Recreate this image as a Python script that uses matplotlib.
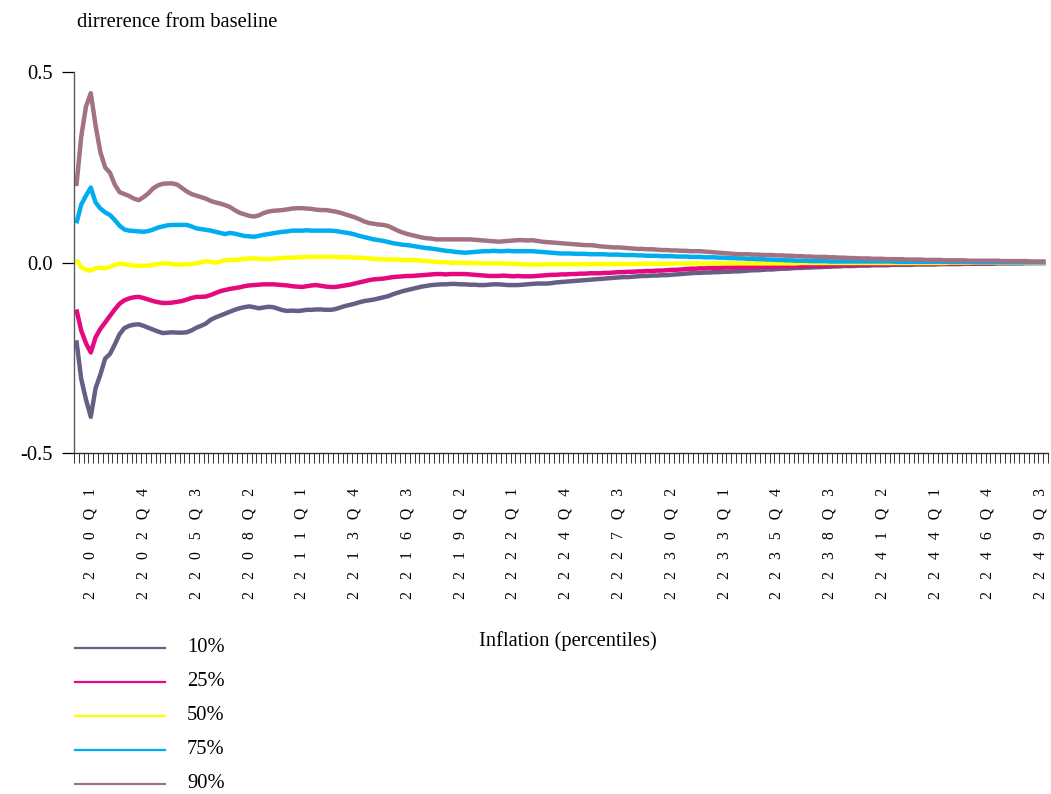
import numpy as np
import matplotlib
matplotlib.use("Agg")
import matplotlib.pyplot as plt
from matplotlib.lines import Line2D

plt.rcParams["font.family"] = ["Liberation Serif", "DejaVu Serif"]

# Quarterly categories 2199Q2 .. 2249Q4
start_year, start_q = 2199, 2
n_periods = 203
categories = []
for k in range(n_periods):
    t = (start_q - 1) + k
    categories.append(f"{start_year + t // 4}Q{t % 4 + 1}")

series_labels = ["10%", "25%", "50%", "75%", "90%"]
series_colors = ["#675E86", "#E5097F", "#FFFF00", "#00AEEF", "#A27282"]

p10 = [
    -0.204, -0.305, -0.360, -0.405, -0.330, -0.294, -0.252, -0.240, -0.215, -0.188,
    -0.172, -0.166, -0.163, -0.162, -0.166, -0.171, -0.176, -0.181, -0.185, -0.184,
    -0.183, -0.184, -0.184, -0.183, -0.178, -0.171, -0.166, -0.160, -0.150, -0.144,
    -0.139, -0.134, -0.129, -0.124, -0.120, -0.117, -0.115, -0.117, -0.120, -0.118,
    -0.116, -0.117, -0.121, -0.125, -0.127, -0.126, -0.127, -0.126, -0.124, -0.124,
    -0.123, -0.123, -0.124, -0.124, -0.122, -0.118, -0.114, -0.111, -0.108, -0.104,
    -0.101, -0.099, -0.097, -0.094, -0.091, -0.088, -0.083, -0.079, -0.075, -0.072,
    -0.069, -0.066, -0.063, -0.061, -0.059, -0.058, -0.057, -0.057, -0.056, -0.056,
    -0.057, -0.057, -0.058, -0.058, -0.059, -0.059, -0.058, -0.057, -0.057, -0.058,
    -0.059, -0.059, -0.059, -0.058, -0.057, -0.056, -0.055, -0.055, -0.055, -0.054,
    -0.052, -0.051, -0.050, -0.049, -0.048, -0.047, -0.046, -0.045, -0.044, -0.043,
    -0.042, -0.041, -0.040, -0.039, -0.038, -0.038, -0.037, -0.036, -0.035, -0.035,
    -0.034, -0.034, -0.033, -0.033, -0.032, -0.031, -0.030, -0.029, -0.028, -0.027,
    -0.027, -0.026, -0.026, -0.025, -0.025, -0.024, -0.024, -0.023, -0.023, -0.022,
    -0.021, -0.020, -0.020, -0.019, -0.018, -0.018, -0.017, -0.016, -0.016, -0.015,
    -0.014, -0.014, -0.013, -0.013, -0.012, -0.012, -0.011, -0.011, -0.010, -0.010,
    -0.009, -0.009, -0.009, -0.008, -0.008, -0.008, -0.007, -0.007, -0.007, -0.007,
    -0.006, -0.006, -0.006, -0.006, -0.006, -0.005, -0.005, -0.005, -0.005, -0.005,
    -0.004, -0.004, -0.004, -0.004, -0.004, -0.003, -0.003, -0.003, -0.003, -0.003,
    -0.003, -0.003, -0.002, -0.002, -0.002, -0.002, -0.002, -0.002, -0.001, -0.001,
    -0.001, -0.001, -0.001,
]

p25 = [
    -0.123, -0.178, -0.212, -0.236, -0.196, -0.174, -0.157, -0.140, -0.123, -0.108,
    -0.099, -0.094, -0.091, -0.090, -0.093, -0.097, -0.101, -0.104, -0.106, -0.106,
    -0.105, -0.103, -0.101, -0.097, -0.093, -0.090, -0.090, -0.089, -0.085, -0.080,
    -0.075, -0.072, -0.069, -0.067, -0.065, -0.062, -0.060, -0.059, -0.058, -0.057,
    -0.057, -0.057, -0.058, -0.059, -0.060, -0.062, -0.063, -0.064, -0.062, -0.060,
    -0.059, -0.061, -0.063, -0.064, -0.064, -0.062, -0.060, -0.058, -0.055, -0.052,
    -0.049, -0.046, -0.044, -0.043, -0.042, -0.040, -0.038, -0.037, -0.036, -0.035,
    -0.035, -0.034, -0.033, -0.032, -0.031, -0.030, -0.030, -0.031, -0.030, -0.030,
    -0.030, -0.030, -0.031, -0.032, -0.033, -0.034, -0.035, -0.035, -0.035, -0.034,
    -0.035, -0.036, -0.035, -0.036, -0.036, -0.036, -0.035, -0.034, -0.033, -0.032,
    -0.032, -0.031, -0.031, -0.030, -0.030, -0.029, -0.029, -0.028, -0.028, -0.028,
    -0.027, -0.027, -0.026, -0.025, -0.025, -0.024, -0.024, -0.023, -0.023, -0.022,
    -0.022, -0.021, -0.021, -0.020, -0.019, -0.019, -0.018, -0.017, -0.016, -0.016,
    -0.015, -0.015, -0.014, -0.014, -0.014, -0.013, -0.013, -0.013, -0.012, -0.012,
    -0.012, -0.012, -0.011, -0.011, -0.011, -0.011, -0.010, -0.010, -0.010, -0.010,
    -0.009, -0.009, -0.009, -0.008, -0.008, -0.008, -0.007, -0.007, -0.007, -0.006,
    -0.006, -0.006, -0.006, -0.005, -0.005, -0.005, -0.005, -0.004, -0.004, -0.004,
    -0.004, -0.003, -0.003, -0.003, -0.003, -0.003, -0.003, -0.003, -0.003, -0.003,
    -0.003, -0.002, -0.002, -0.002, -0.002, -0.002, -0.002, -0.002, -0.002, -0.002,
    -0.002, -0.001, -0.001, -0.001, -0.001, -0.001, -0.001, -0.001, -0.001, -0.001,
    -0.001, -0.001, -0.001,
]

p50 = [
    0.007, -0.012, -0.019, -0.021, -0.015, -0.013, -0.015, -0.011, -0.006, -0.003,
    -0.004, -0.006, -0.008, -0.009, -0.008, -0.008, -0.006, -0.004, -0.002, -0.002,
    -0.004, -0.005, -0.005, -0.004, -0.004, -0.002, 0.001, 0.004, 0.002, 0.000,
    0.003, 0.006, 0.007, 0.007, 0.008, 0.010, 0.011, 0.011, 0.010, 0.009,
    0.009, 0.010, 0.011, 0.012, 0.013, 0.013, 0.014, 0.014, 0.015, 0.015,
    0.015, 0.015, 0.015, 0.015, 0.015, 0.014, 0.014, 0.014, 0.013, 0.013,
    0.012, 0.011, 0.010, 0.009, 0.009, 0.008, 0.008, 0.008, 0.007, 0.007,
    0.007, 0.006, 0.005, 0.004, 0.003, 0.002, 0.001, 0.001, 0.000, 0.000,
    0.000, -0.001, -0.001, -0.001, -0.002, -0.002, -0.002, -0.002, -0.002, -0.002,
    -0.003, -0.003, -0.004, -0.004, -0.005, -0.005, -0.005, -0.005, -0.004, -0.004,
    -0.004, -0.004, -0.004, -0.004, -0.004, -0.004, -0.004, -0.004, -0.004, -0.004,
    -0.004, -0.004, -0.004, -0.004, -0.004, -0.004, -0.004, -0.003, -0.003, -0.003,
    -0.003, -0.003, -0.003, -0.003, -0.003, -0.002, -0.002, -0.002, -0.002, -0.002,
    -0.002, -0.002, -0.002, -0.002, -0.002, -0.002, -0.002, -0.002, -0.002, -0.002,
    -0.002, -0.002, -0.002, -0.002, -0.002, -0.002, -0.002, -0.002, -0.002, -0.002,
    -0.002, -0.001, -0.001, -0.001, -0.001, -0.001, -0.001, -0.001, -0.001, -0.001,
    -0.001, -0.001, -0.001, -0.001, -0.001, -0.001, -0.001, -0.001, -0.001, -0.001,
    -0.001, -0.001, -0.001, -0.001, -0.001, -0.001, -0.001, -0.001, -0.001, -0.001,
    -0.001, -0.001, 0.000, 0.000, 0.000, 0.000, 0.000, 0.000, 0.000, 0.000,
    0.000, 0.000, 0.000, 0.000, 0.000, 0.000, 0.000, 0.000, 0.000, 0.000,
    0.000, 0.000, 0.000,
]

p75 = [
    0.103, 0.152, 0.176, 0.197, 0.158, 0.142, 0.132, 0.125, 0.112, 0.097,
    0.087, 0.084, 0.083, 0.082, 0.081, 0.083, 0.087, 0.092, 0.095, 0.098,
    0.099, 0.099, 0.099, 0.099, 0.095, 0.090, 0.088, 0.086, 0.084, 0.081,
    0.078, 0.075, 0.078, 0.076, 0.073, 0.070, 0.069, 0.068, 0.070, 0.073,
    0.075, 0.077, 0.079, 0.081, 0.082, 0.084, 0.084, 0.084, 0.085, 0.084,
    0.084, 0.084, 0.084, 0.084, 0.083, 0.081, 0.079, 0.077, 0.074, 0.070,
    0.067, 0.064, 0.061, 0.059, 0.057, 0.054, 0.051, 0.049, 0.047, 0.046,
    0.044, 0.042, 0.040, 0.038, 0.037, 0.035, 0.033, 0.031, 0.030, 0.028,
    0.027, 0.026, 0.027, 0.028, 0.029, 0.030, 0.030, 0.031, 0.030, 0.030,
    0.031, 0.030, 0.030, 0.030, 0.030, 0.030, 0.029, 0.028, 0.027, 0.026,
    0.025, 0.024, 0.024, 0.024, 0.023, 0.023, 0.023, 0.022, 0.022, 0.022,
    0.022, 0.021, 0.021, 0.021, 0.020, 0.020, 0.020, 0.019, 0.019, 0.018,
    0.018, 0.018, 0.017, 0.017, 0.017, 0.016, 0.016, 0.016, 0.015, 0.015,
    0.015, 0.014, 0.014, 0.014, 0.013, 0.013, 0.012, 0.012, 0.011, 0.011,
    0.010, 0.010, 0.009, 0.009, 0.008, 0.008, 0.007, 0.007, 0.006, 0.006,
    0.005, 0.005, 0.005, 0.004, 0.004, 0.004, 0.004, 0.003, 0.003, 0.003,
    0.003, 0.003, 0.003, 0.003, 0.003, 0.003, 0.003, 0.003, 0.003, 0.003,
    0.003, 0.002, 0.002, 0.002, 0.002, 0.002, 0.002, 0.002, 0.002, 0.002,
    0.002, 0.002, 0.002, 0.002, 0.002, 0.002, 0.002, 0.001, 0.001, 0.001,
    0.001, 0.001, 0.001, 0.001, 0.001, 0.001, 0.001, 0.001, 0.001, 0.001,
    0.001, 0.001, 0.001,
]

p90 = [
    0.201, 0.330, 0.410, 0.445, 0.360, 0.290, 0.250, 0.236, 0.205, 0.185,
    0.180, 0.175, 0.168, 0.164, 0.172, 0.182, 0.195, 0.203, 0.207, 0.208,
    0.208, 0.205, 0.196, 0.187, 0.180, 0.176, 0.172, 0.168, 0.162, 0.158,
    0.155, 0.151, 0.146, 0.138, 0.131, 0.127, 0.123, 0.121, 0.124, 0.130,
    0.134, 0.136, 0.137, 0.138, 0.140, 0.142, 0.143, 0.143, 0.142, 0.141,
    0.139, 0.138, 0.138, 0.136, 0.134, 0.131, 0.127, 0.123, 0.119, 0.114,
    0.108, 0.104, 0.102, 0.100, 0.099, 0.096, 0.090, 0.084, 0.079, 0.075,
    0.072, 0.069, 0.066, 0.064, 0.063, 0.061, 0.061, 0.061, 0.061, 0.061,
    0.061, 0.061, 0.061, 0.060, 0.059, 0.058, 0.057, 0.056, 0.055, 0.056,
    0.057, 0.058, 0.059, 0.059, 0.058, 0.059, 0.057, 0.055, 0.054, 0.053,
    0.052, 0.051, 0.050, 0.049, 0.048, 0.047, 0.046, 0.046, 0.045, 0.043,
    0.042, 0.041, 0.040, 0.040, 0.039, 0.038, 0.037, 0.036, 0.036, 0.035,
    0.035, 0.034, 0.033, 0.033, 0.032, 0.032, 0.031, 0.031, 0.030, 0.030,
    0.030, 0.029, 0.028, 0.027, 0.026, 0.025, 0.024, 0.023, 0.022, 0.022,
    0.022, 0.021, 0.021, 0.020, 0.020, 0.020, 0.019, 0.019, 0.018, 0.018,
    0.017, 0.017, 0.016, 0.016, 0.015, 0.015, 0.015, 0.014, 0.014, 0.013,
    0.013, 0.012, 0.012, 0.011, 0.011, 0.011, 0.010, 0.010, 0.010, 0.009,
    0.009, 0.009, 0.009, 0.008, 0.008, 0.008, 0.008, 0.007, 0.007, 0.007,
    0.007, 0.006, 0.006, 0.006, 0.006, 0.006, 0.005, 0.005, 0.005, 0.005,
    0.005, 0.005, 0.005, 0.004, 0.004, 0.004, 0.004, 0.004, 0.004, 0.003,
    0.003, 0.003, 0.003,
]

series = [p10, p25, p50, p75, p90]

# every 11th quarter is labelled, starting at 2200Q1
label_step = 11
label_start = categories.index("2200Q1")

fig = plt.figure(figsize=(10.51, 7.94), dpi=100)
ax = fig.add_axes([0.0704, 0.4295, 0.9267, 0.4795])

x = np.arange(len(categories))
for vals, color, lab in zip(series, series_colors, series_labels):
    ax.plot(x, vals, color=color, lw=3.2, solid_joinstyle="round",
            solid_capstyle="butt", label=lab)

ax.set_xlim(-0.5, len(categories) - 0.5)
ax.set_ylim(-0.5, 0.5)

for side in ("top", "right"):
    ax.spines[side].set_visible(False)
ax.spines["left"].set_color("#5a5a5a")
ax.spines["left"].set_linewidth(1.0)
ax.spines["bottom"].set_color("#303030")
ax.spines["bottom"].set_linewidth(1.0)

ax.set_yticks([-0.5, 0.0, 0.5], ["-0.5", "0.0", "0.5"], fontsize=14.8)
ax.tick_params(axis="y", length=8.5, width=0.9, pad=7, color="black")

label_pos = list(range(label_start, len(categories), label_step))
label_txt = ["   ".join(categories[i]) for i in label_pos]
ax.set_xticks(label_pos, label_txt, rotation=90, fontsize=11.3)
ax.tick_params(axis="x", which="major", length=0, pad=25)
ax.set_xticks(np.arange(-0.5, len(categories), 1.0), minor=True)
ax.tick_params(axis="x", which="minor", length=7.5, width=0.7, color="#333333")

W, H = 1051, 794
fig.text(77 / W, 1 - 27.3 / H, "dirrerence from baseline", fontsize=14.8,
         ha="left", va="baseline")
fig.text(568 / W, 1 - 641 / H, "Inflation (percentiles)", fontsize=14.8,
         ha="center", va="center")

# legend drawn as a vertical list under the axis labels
leg_y = [648, 682, 716, 750, 784]
for yy, color, lab in zip(leg_y, series_colors, series_labels):
    fig.add_artist(Line2D([75 / W, 165 / W], [1 - yy / H, 1 - yy / H],
                          color=color, lw=1.6, transform=fig.transFigure))
    fig.text(187 / W, 1 - (yy + 3.5) / H, lab, fontsize=14.8,
             ha="left", va="baseline")

fig.savefig("out.png", dpi=100)
